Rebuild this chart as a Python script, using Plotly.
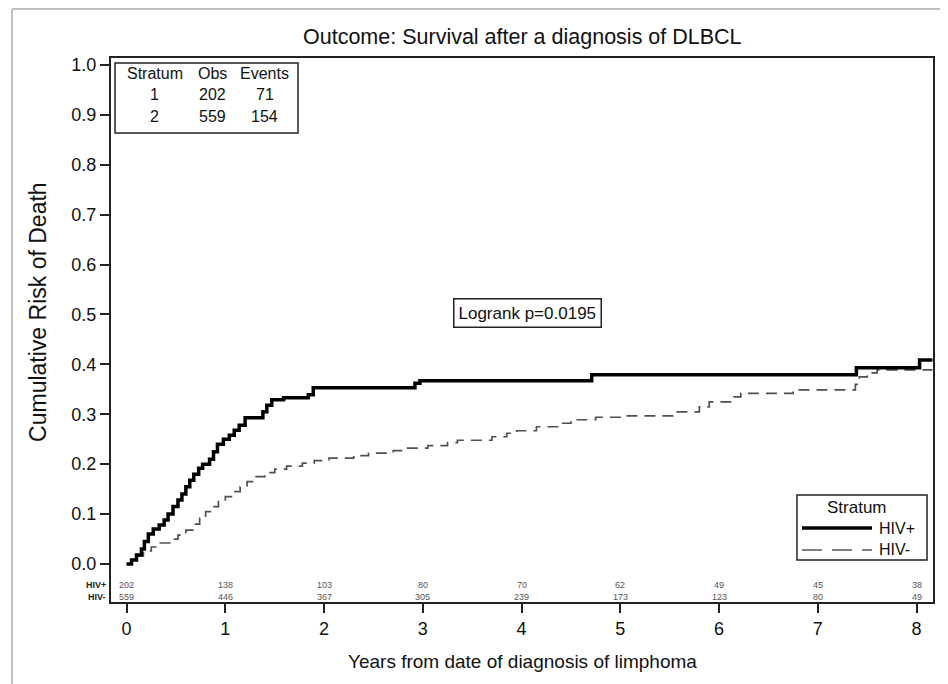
import plotly.graph_objects as go

# ---- data ----
hiv_pos_t = [0, 0.05, 0.1, 0.15, 0.18, 0.22, 0.27, 0.33, 0.38, 0.42, 0.47, 0.52, 0.56, 0.6, 0.64,
             0.68, 0.73, 0.77, 0.84, 0.88, 0.92, 0.98, 1.04, 1.09, 1.14, 1.2, 1.38, 1.42, 1.47,
             1.59, 1.84, 1.89, 2.92, 2.97, 4.71, 7.39, 8.03, 8.16]
hiv_pos_risk = [0.0, 0.008, 0.018, 0.03, 0.045, 0.06, 0.07, 0.078, 0.088, 0.1, 0.115, 0.128, 0.14,
                0.155, 0.168, 0.18, 0.192, 0.2, 0.21, 0.225, 0.24, 0.25, 0.258, 0.268, 0.278,
                0.293, 0.305, 0.318, 0.329, 0.333, 0.339, 0.353, 0.362, 0.367, 0.379, 0.393,
                0.409, 0.409]

hiv_neg_t = [0, 0.05, 0.1, 0.17, 0.25, 0.34, 0.45, 0.52, 0.6, 0.68, 0.74, 0.8, 0.86, 0.93, 1.0,
             1.07, 1.15, 1.22, 1.3, 1.4, 1.5, 1.62, 1.78, 1.9, 2.05, 2.3, 2.45, 2.7, 2.8, 3.05,
             3.25, 3.35, 3.7, 3.85, 3.95, 4.15, 4.4, 4.5, 4.75, 5.0, 5.55, 5.8, 5.9, 6.15, 6.22,
             6.75, 7.38, 7.42, 7.5, 7.6, 8.16]
hiv_neg_risk = [0.0, 0.008, 0.016, 0.026, 0.034, 0.042, 0.05, 0.058, 0.068, 0.08, 0.092, 0.105,
                0.115, 0.125, 0.135, 0.145, 0.155, 0.165, 0.175, 0.183, 0.19, 0.196, 0.202,
                0.207, 0.212, 0.217, 0.222, 0.227, 0.232, 0.237, 0.243, 0.248, 0.255, 0.262,
                0.267, 0.275, 0.282, 0.289, 0.294, 0.297, 0.305, 0.315, 0.325, 0.335, 0.342,
                0.349, 0.36, 0.375, 0.383, 0.389, 0.389]

risk_years = [0, 1, 2, 3, 4, 5, 6, 7, 8]
at_risk_pos = [202, 138, 103, 80, 70, 62, 49, 45, 38]
at_risk_neg = [559, 446, 367, 305, 239, 173, 123, 80, 49]

strata = ["1", "2"]
obs = [202, 559]
events = [71, 154]

y_ticks = [0.0, 0.1, 0.2, 0.3, 0.4, 0.5, 0.6, 0.7, 0.8, 0.9, 1.0]
x_ticks = [0, 1, 2, 3, 4, 5, 6, 7, 8]

FONT = "Liberation Sans, Arial, sans-serif"
AX = "#222222"

fig = go.Figure()
fig.add_trace(go.Scatter(x=hiv_neg_t, y=hiv_neg_risk, mode="lines", line_shape="hv",
                         line=dict(color="#505050", width=1.7, dash="11px,7px"),
                         name="HIV-", showlegend=False))
fig.add_trace(go.Scatter(x=hiv_pos_t, y=hiv_pos_risk, mode="lines", line_shape="hv",
                         line=dict(color="#000000", width=3.5),
                         name="HIV+", showlegend=False))

ann = []
# at-risk numbers
for yr, a, b in zip(risk_years, at_risk_pos, at_risk_neg):
    ann.append(dict(x=yr, y=-0.042, xref="x", yref="y", xanchor="center", yanchor="middle",
                    text=str(a), showarrow=False, font=dict(size=9, color="#555555", family=FONT)))
    ann.append(dict(x=yr, y=-0.066, xref="x", yref="y", xanchor="center", yanchor="middle",
                    text=str(b), showarrow=False, font=dict(size=9, color="#555555", family=FONT)))
ann.append(dict(x=-0.004, y=-0.042, xref="paper", yref="y", xanchor="right", yanchor="middle",
                text="<b>HIV+</b>", showarrow=False, font=dict(size=9, color="#222", family=FONT)))
ann.append(dict(x=-0.004, y=-0.066, xref="paper", yref="y", xanchor="right", yanchor="middle",
                text="<b>HIV-</b>", showarrow=False, font=dict(size=9, color="#222", family=FONT)))

# table
col_x = [0.0535, 0.1229, 0.1873]
for cx, h in zip(col_x, ["Stratum", "Obs", "Events"]):
    ann.append(dict(x=cx, y=0.9706, xref="paper", yref="paper", xanchor="center", yanchor="middle",
                    text=h, showarrow=False, font=dict(size=16, color="#111", family=FONT)))
for row_y, s, o, e in zip([0.932, 0.893], strata, obs, events):
    for cx, v in zip(col_x, [s, o, e]):
        ann.append(dict(x=cx, y=row_y, xref="paper", yref="paper", xanchor="center",
                        yanchor="middle", text=str(v), showarrow=False,
                        font=dict(size=16, color="#111", family=FONT)))

# logrank
ann.append(dict(x=0.507, y=0.531, xref="paper", yref="paper", xanchor="center", yanchor="middle",
                text="Logrank p=0.0195",
                showarrow=False, font=dict(size=17, color="#111", family=FONT),
                bordercolor="#222", borderwidth=1.5, borderpad=4, bgcolor="white"))

# legend
ann.append(dict(x=0.907, y=0.1728, xref="paper", yref="paper", xanchor="center", yanchor="middle",
                text="Stratum", showarrow=False, font=dict(size=17, color="#111", family=FONT)))
ann.append(dict(x=0.932, y=0.136, xref="paper", yref="paper", xanchor="left", yanchor="middle",
                text="HIV+", showarrow=False, font=dict(size=16, color="#111", family=FONT)))
ann.append(dict(x=0.932, y=0.0956, xref="paper", yref="paper", xanchor="left", yanchor="middle",
                text="HIV-", showarrow=False, font=dict(size=16, color="#111", family=FONT)))

# axis titles
ann.append(dict(x=-0.089, y=0.533, xref="paper", yref="paper", xanchor="center", yanchor="middle",
                text="Cumulative Risk of Death",
                textangle=-90, showarrow=False, font=dict(size=23, color="#111", family=FONT)))
ann.append(dict(x=0.5, y=-0.11, xref="paper", yref="paper", xanchor="center", yanchor="middle",
                text="Years from date of diagnosis of limphoma", showarrow=False,
                font=dict(size=19, color="#111", family=FONT)))
# title
ann.append(dict(x=0.5, y=1.0386, xref="paper", yref="paper", xanchor="center", yanchor="middle",
                text="Outcome: Survival after a diagnosis of DLBCL", showarrow=False,
                font=dict(size=21.5, color="#111", family=FONT)))

shapes = [
    # table box
    dict(type="rect", xref="paper", yref="paper", x0=0.0049, x1=0.2275, y0=0.862, y1=0.991,
         line=dict(color="#222", width=1.5)),
    # legend box
    dict(type="rect", xref="paper", yref="paper", x0=0.8345, x1=0.9927, y0=0.0772, y1=0.1967,
         line=dict(color="#222", width=1.5), fillcolor="white", layer="above"),
    dict(type="line", xref="paper", yref="paper", x0=0.8406, x1=0.9258, y0=0.136, y1=0.136,
         line=dict(color="#000", width=3.5)),
    dict(type="line", xref="paper", yref="paper", x0=0.8406, x1=0.9258, y0=0.0956, y1=0.0956,
         line=dict(color="#555", width=1.6, dash="20px,10px")),
    # outer frame
    dict(type="line", xref="paper", yref="paper", x0=-0.1204, x1=-0.1204, y0=-0.2, y1=1.0901,
         line=dict(color="#c0c0c0", width=2)),
    dict(type="line", xref="paper", yref="paper", x0=-0.1204, x1=1.011, y0=1.0901, y1=1.0901,
         line=dict(color="#c0c0c0", width=2)),
    dict(type="line", xref="paper", yref="paper", x0=1.011, x1=1.011, y0=-0.2, y1=1.0901,
         line=dict(color="#c0c0c0", width=2)),
]

fig.update_layout(
    width=940, height=676,
    margin=dict(l=103, r=15, t=50, b=82),
    paper_bgcolor="white", plot_bgcolor="white",
    annotations=ann, shapes=shapes, showlegend=False,
)
fig.update_xaxes(range=[-0.158, 8.166], tickvals=x_ticks, ticktext=[str(v) for v in x_ticks],
                 showgrid=False, zeroline=False, showline=True, linecolor=AX, linewidth=2,
                 mirror=True, ticks="outside", ticklen=9, tickwidth=2, tickcolor=AX,
                 tickfont=dict(size=18, color="#111", family=FONT))
fig.update_yaxes(range=[-0.0762, 1.014], tickvals=y_ticks, ticktext=[f"{v:.1f}" for v in y_ticks],
                 showgrid=False, zeroline=False, showline=True, linecolor=AX, linewidth=2,
                 mirror=True, ticks="outside", ticklen=9, tickwidth=2, tickcolor=AX,
                 tickfont=dict(size=18, color="#111", family=FONT))

fig.write_html("out.html")
